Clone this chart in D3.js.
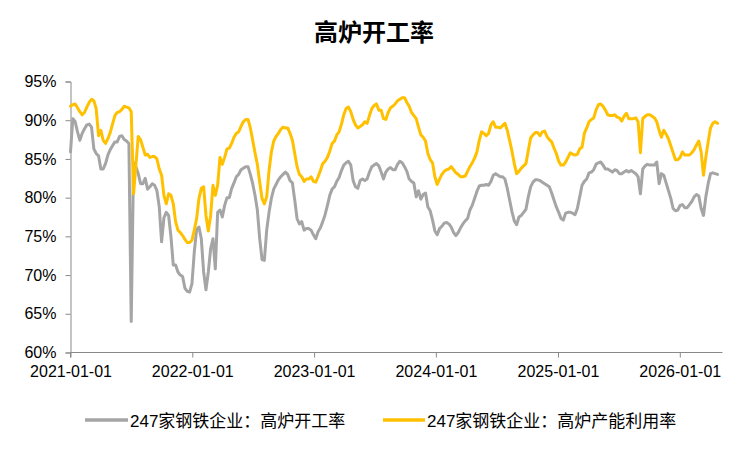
<!DOCTYPE html>
<html>
<head>
<meta charset="utf-8">
<script src="https://cdn.jsdelivr.net/npm/d3@7"></script>
<style>
  html, body { margin: 0; padding: 0; background: #fff; }
  svg { display: block; }
  text { font-family: "Liberation Sans", Arial, "Noto Sans CJK SC", sans-serif; fill: #000; }
</style>
</head>
<body>
<svg id="chart" width="750" height="450"></svg>
<script>
// ---------------- data ----------------
const title = "高炉开工率";
const seriesNames = ["247家钢铁企业：高炉开工率", "247家钢铁企业：高炉产能利用率"];
const seriesColors = ["#A5A5A5", "#FFC000"];
const firstWeek = "2021-01-01";           // weekly observations, one every 7 days
const axisEnd = "2026-05-09";
const xTickLabels = ["2021-01-01", "2022-01-01", "2023-01-01", "2024-01-01", "2025-01-01", "2026-01-01"];
const yTickValues = [60, 65, 70, 75, 80, 85, 90, 95];

// 高炉开工率 (%)
const operatingRate = [
  85.9, 90.2, 89.8, 88.5, 87.4, 88.3, 88.9, 89.4, 89.5, 89.1,
  86.3, 85.7, 85.4, 83.7, 83.7, 84.4, 85.5, 86.2, 86.7, 87.2,
  87.2, 87.9, 88.0, 87.5, 87.3, 87.0, 64.0, 84.5, 84.0, 83.1,
  81.8, 81.8, 82.5, 81.1, 81.4, 81.8, 81.6, 80.9, 78.8, 74.3,
  77.4, 78.1, 77.7, 75.0, 71.3, 71.3, 70.4, 70.0, 69.8, 68.3,
  67.9, 67.8, 68.9, 73.0, 75.9, 76.2, 74.7, 70.4, 68.1, 70.4,
  73.4, 74.7, 70.8, 78.1, 78.4, 77.5, 79.0, 80.0, 80.0, 81.2,
  81.9, 82.7, 83.0, 83.6, 83.8, 84.0, 84.0, 83.0, 81.8, 80.3,
  78.4, 74.7, 72.0, 71.9, 75.8, 78.1, 79.9, 81.1, 81.7, 82.3,
  82.7, 83.0, 83.3, 83.0, 82.2, 81.9, 79.7, 77.3, 76.6, 76.9,
  75.8, 76.0, 76.0, 75.8, 75.2, 74.7, 75.6, 76.1, 76.9, 77.8,
  79.0, 80.3, 81.1, 81.4, 82.1, 82.6, 83.5, 84.2, 84.5, 84.7,
  84.2, 82.2, 81.4, 81.2, 82.2, 82.4, 82.2, 82.4, 83.3, 84.0,
  84.2, 84.4, 84.1, 83.3, 82.4, 83.3, 83.7, 83.9, 83.6, 83.6,
  84.3, 84.7, 84.5, 84.0, 83.4, 82.4, 82.1, 81.9, 80.1, 80.9,
  79.8, 80.4, 80.6, 78.8, 78.3, 77.1, 75.7, 75.2, 76.0, 76.3,
  76.7, 76.8, 76.6, 76.2, 75.5, 75.1, 75.5, 76.1, 76.6, 77.0,
  77.3, 78.4, 79.0, 79.9, 80.8, 81.5, 81.6, 81.6, 81.7, 81.6,
  82.1, 82.9, 83.1, 82.9, 82.7, 82.7, 82.4, 81.2, 79.7, 78.2,
  77.0, 76.5, 77.5, 77.7, 78.1, 78.5, 80.1, 81.4, 82.0, 82.3,
  82.3, 82.2, 82.0, 81.8, 81.6, 81.4, 80.6, 79.7, 78.8, 78.1,
  77.3, 77.1, 78.0, 78.1, 78.1, 78.0, 77.8, 78.6, 80.1, 81.6,
  82.1, 82.4, 83.2, 83.3, 83.6, 84.3, 84.5, 84.6, 84.2, 83.7,
  83.7, 83.5, 83.3, 83.6, 83.5, 83.1, 83.1, 83.3, 83.5, 83.3,
  83.5, 83.3, 83.1, 82.7, 80.5, 83.7, 84.1, 84.3, 84.2, 84.2,
  84.2, 84.6, 81.8, 83.1, 82.9, 81.9, 80.9, 79.9, 78.6, 78.3,
  78.4, 79.0, 79.1, 78.7, 78.7, 79.1, 79.5, 80.1, 80.4, 80.2,
  78.6, 77.7, 80.1, 81.8, 83.1, 83.2, 83.1, 83.0
];

// 高炉产能利用率 (%)
const capacityUtilization = [
  91.8, 92.0, 92.1, 91.6, 91.1, 90.7, 91.0, 91.7, 92.3, 92.7,
  92.5, 91.5, 88.0, 88.7, 87.4, 87.0, 87.6, 88.4, 89.5, 90.6,
  91.0, 91.1, 91.4, 91.8, 91.7, 91.6, 91.1, 80.5, 84.2, 87.9,
  87.5, 86.5, 85.5, 85.6, 85.2, 85.3, 85.3, 85.0, 83.7, 82.9,
  80.3, 79.2, 80.5, 80.3, 79.2, 76.9, 75.8, 75.5, 75.1, 74.6,
  74.2, 74.2, 74.5, 75.8, 77.3, 79.9, 81.2, 81.4, 77.7, 75.7,
  77.7, 81.6, 80.3, 81.6, 85.2, 84.3, 85.2, 86.3, 86.4, 87.0,
  87.8, 88.3, 88.5, 89.2, 89.8, 90.1, 90.1, 89.0, 87.4, 85.8,
  84.3, 82.0, 79.9, 79.2, 80.1, 83.5, 85.9, 87.3, 87.9, 88.3,
  88.8, 89.1, 89.0, 89.0, 88.3, 87.4, 85.7, 84.0, 83.0, 82.7,
  82.1, 82.4, 82.4, 82.7, 82.1, 82.0, 82.7, 83.5, 84.4, 84.7,
  85.2, 86.0, 87.0, 87.3, 88.1, 88.5, 89.5, 90.7, 91.5, 91.7,
  91.1, 90.1, 89.4, 89.0, 89.2, 89.4, 89.8, 89.6, 90.6, 91.5,
  91.9, 92.1, 91.3, 91.3, 90.2, 90.1, 91.0, 91.6, 91.8, 92.1,
  92.5, 92.7, 92.9, 92.9, 92.3, 91.8, 91.0, 90.6, 90.2, 89.1,
  88.1, 87.8, 87.3, 85.7, 84.9, 84.5, 82.7, 81.7, 82.4, 83.0,
  83.4, 83.6, 83.7, 84.0, 83.6, 83.2, 83.0, 82.7, 82.7, 82.8,
  83.4, 84.0, 84.5, 85.1, 85.9, 87.4, 88.5, 88.3, 88.0, 88.3,
  89.4, 89.8, 89.1, 89.1, 89.0, 89.3, 89.6, 88.7, 87.4, 86.0,
  84.4, 83.1, 83.4, 83.8, 84.1, 84.4, 86.1, 87.7, 88.1, 88.4,
  88.4, 88.0, 88.5, 88.6, 87.9, 87.5, 87.2, 86.4, 85.7, 84.7,
  84.2, 84.2, 84.6, 85.2, 85.8, 85.6, 85.5, 85.6, 86.3, 86.5,
  88.3, 89.0, 89.8, 90.1, 90.3, 91.3, 92.0, 92.1, 91.8, 91.3,
  90.7, 90.6, 90.6, 90.7, 90.4, 90.3, 89.9, 90.5, 90.9, 90.2,
  90.2, 90.2, 90.3, 89.8, 85.8, 90.2, 90.5, 90.7, 90.7, 90.5,
  90.3, 89.8, 88.7, 87.8, 88.7, 88.2, 87.6, 86.7, 85.8, 84.9,
  84.9, 85.2, 85.9, 85.5, 85.5, 85.5, 85.8, 86.2, 86.8, 87.3,
  85.9, 82.9, 85.2, 87.2, 89.0, 89.6, 89.8, 89.6
];

// ---------------- chart ----------------
const parse = d3.utcParse("%Y-%m-%d");
const fmt = d3.utcFormat("%Y-%m-%d");
const start = parse(firstWeek);
const dates = operatingRate.map((_, i) => d3.utcDay.offset(start, 7 * i));

const svg = d3.select("#chart");
const axisColor = "#898989";

const x = d3.scaleUtc().domain([start, parse(axisEnd)]).range([70.5, 722.5]);
const y = d3.scaleLinear().domain([60, 95]).range([352.5, 81.5]);

// title
svg.append("text")
  .attr("x", 374).attr("y", 41)
  .attr("text-anchor", "middle")
  .style("font-family", "'Noto Sans CJK SC', sans-serif")
  .style("font-weight", "bold")
  .style("font-size", "24px")
  .text(title);

// y axis
const yAxis = svg.append("g")
  .attr("transform", "translate(70.5,0)")
  .call(d3.axisLeft(y).tickValues(yTickValues).tickSize(5).tickPadding(9)
        .tickFormat(d => d + "%"));
yAxis.select(".domain").attr("stroke", axisColor).attr("stroke-width", 1);
yAxis.selectAll(".tick line").attr("stroke", axisColor);
yAxis.selectAll(".tick text").style("font-size", "16px").attr("fill", "#000");

// x axis
const xAxis = svg.append("g")
  .attr("transform", "translate(0,352.5)")
  .call(d3.axisBottom(x).tickValues(xTickLabels.map(parse)).tickSize(5).tickPadding(8)
        .tickFormat(fmt));
xAxis.select(".domain").attr("stroke", axisColor).attr("stroke-width", 1)
  .attr("d", `M${x.range()[0]},5V0H${x.range()[1]}`);
xAxis.selectAll(".tick line").attr("stroke", axisColor);
xAxis.selectAll(".tick text").style("font-size", "16px").attr("fill", "#000");

// lines
const line = d3.line()
  .x((d, i) => x(dates[i]))
  .y(d => y(d))
  .curve(d3.curveLinear);

[operatingRate, capacityUtilization].forEach((vals, k) => {
  svg.append("path")
    .datum(vals)
    .attr("fill", "none")
    .attr("stroke", seriesColors[k])
    .attr("stroke-width", 3)
    .attr("stroke-linejoin", "round")
    .attr("stroke-linecap", "round")
    .attr("d", line);
});

// legend
const legendPos = [{x1: 85, x2: 128, tx: 130}, {x1: 383, x2: 425, tx: 427}];
seriesNames.forEach((name, k) => {
  const p = legendPos[k];
  svg.append("line")
    .attr("x1", p.x1).attr("x2", p.x2)
    .attr("y1", 420).attr("y2", 420)
    .attr("stroke", seriesColors[k])
    .attr("stroke-width", 3.5);
  svg.append("text")
    .attr("x", p.tx).attr("y", 427)
    .style("font-size", "17px")
    .text(name);
});
</script>
</body>
</html>
